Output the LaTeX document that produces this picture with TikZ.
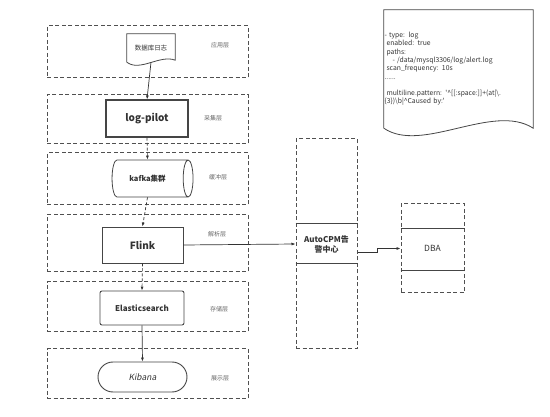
\documentclass[tikz,border=0pt]{standalone}
\usepackage{fontspec}
\setmainfont{Noto Sans CJK SC}
\newfontfamily\notefont{Noto Sans CJK SC}[Ligatures=TeXOff]
\newfontfamily\slantfont{Noto Sans CJK SC}[FakeSlant=0.2]
\usepackage{tikz}
\usetikzlibrary{arrows.meta, positioning, shapes.geometric}

\definecolor{dashgray}{HTML}{505050}
\definecolor{boxgray}{HTML}{454545}
\definecolor{textgray}{HTML}{333333}

\begin{document}
\begin{tikzpicture}[
    x=1pt, y=-1pt,
    text=textgray,
    layer/.style={
        rectangle,
        draw=dashgray,
        line width=1pt,
        dash pattern=on 4pt off 2.5pt,
        minimum width=201pt
    },
    layerlabel/.style={
        font=\fontsize{6}{7}\selectfont,
        text=black!60
    },
    block/.style={
        rectangle,
        draw=boxgray,
        line width=0.9pt,
        align=center,
        font=\bfseries\fontsize{8}{10}\selectfont
    },
    lane/.style={
        rectangle,
        draw=dashgray,
        line width=1pt,
        dash pattern=on 4pt off 2.5pt,
        align=center
    },
    arrow/.style={-{Latex[length=4pt,width=3pt]}, line width=0.7pt, draw=black!80},
    dasharrow/.style={arrow, dash pattern=on 3pt off 2pt}
]
\useasboundingbox (0,0) rectangle (550,417);

% layers
\node[layer, minimum height=52pt] (layApp) at (147.5,52) {};
\node[layer, minimum height=49pt] (layCollect) at (147.5,119.5) {};
\node[layer, minimum height=52pt] (layBuffer) at (147.5,179) {};
\node[layer, minimum height=57pt] (layParse) at (147.5,243.5) {};
\node[layer, minimum height=50pt] (layStore) at (147.5,307) {};
\node[layer, minimum height=50pt] (layShow) at (147.5,374) {};

\node[layerlabel] (lblApp) at (220,45) {应用层};
\node[layerlabel] (lblCollect) at (213,118) {采集层};
\node[layerlabel] (lblBuffer) at (218,177) {缓冲层};
\node[layerlabel] (lblParse) at (217,234) {解析层};
\node[layerlabel] (lblStore) at (219,309) {存储层};
\node[layerlabel] (lblShow) at (220,378) {展示层};

% document node
\node[minimum width=48pt, minimum height=28pt, inner sep=0pt,
      font=\fontsize{6.5}{8}\selectfont] (dbLog) at (151,48) {数据库日志};
\draw[draw=boxgray, line width=0.8pt]
    (dbLog.south west) -- (dbLog.north west) -- (dbLog.north east)
    -- ([yshift=2pt]dbLog.south east)
    .. controls +(-15,-6) and +(13,10) .. (dbLog.south west);

\node[block, minimum width=82pt, minimum height=37pt, line width=1.2pt,
      font=\bfseries\fontsize{10}{12}\selectfont] (logPilot) at (147,118.5) {log-pilot};
\node[cylinder, draw=boxgray, line width=0.8pt, shape aspect=0.28,
      minimum width=37pt, minimum height=81pt, inner ysep=14pt,
      font=\bfseries\fontsize{7.5}{9}\selectfont] (kafka) at (147.5,178.5) {kafka集群};
\node[block, minimum width=81pt, minimum height=36pt,
      font=\bfseries\fontsize{10}{12}\selectfont] (flink) at (142.5,245) {Flink};
\node[block, minimum width=84pt, minimum height=34pt, rounded corners=2pt] (es) at (142,308) {Elasticsearch};
\node[block, minimum width=89pt, minimum height=30pt, rounded corners=15pt,
      font=\slantfont\fontsize{8.5}{10}\selectfont] (kibana) at (142.5,377) {Kibana};

% swimlanes
\node[lane, minimum width=61pt, minimum height=210pt,
      font=\bfseries\fontsize{8}{10}\selectfont] (autoCPM) at (326.5,244) {AutoCPM告\\警中心};
\draw[draw=boxgray, line width=0.8pt] ([yshift=21pt]autoCPM.west) -- ([yshift=21pt]autoCPM.east);
\draw[draw=boxgray, line width=0.8pt] ([yshift=-19pt]autoCPM.west) -- ([yshift=-19pt]autoCPM.east);

\node[lane, minimum width=63pt, minimum height=89pt,
      font=\fontsize{8.5}{10}\selectfont] (dba) at (432.5,248.5) {DBA};
\draw[draw=boxgray, line width=0.8pt] ([yshift=20.5pt]dba.west) -- ([yshift=20.5pt]dba.east);
\draw[draw=boxgray, line width=0.8pt] ([yshift=-21.5pt]dba.west) -- ([yshift=-21.5pt]dba.east);

% config note
\node[minimum width=149pt, minimum height=118pt, inner sep=0.5pt,
      text width=148pt, align=left,
      font=\notefont\fontsize{6.8}{8.3}\selectfont] (note) at (458.5,69) {%
- type: log\\
\hspace*{2pt}enabled: true\\
\hspace*{2pt}paths:\\
\hspace*{8pt}- /data/mysql3306/log/alert.log\\
\hspace*{2pt}scan\_frequency: 10s\\
......\\[8.3pt]
\hspace*{2pt}multiline.pattern: '\textasciicircum[[:space:]]+(at|\textbackslash.\\
\{3\})\textbackslash b|\textasciicircum Caused by:'};
\draw[draw=boxgray, line width=0.8pt]
    (note.south west) -- (note.north west) -- (note.north east)
    -- (note.south east)
    .. controls +(-40,-26) and +(38,26) .. (note.south west);

% connectors
\draw[arrow] (dbLog.south) -- (logPilot.north);
\draw[dasharrow] (logPilot.south) -- (kafka.north);
\draw[dasharrow] (kafka.south) -- (flink.north);
\draw[dasharrow] (flink.south) -- (es.north);
\draw[arrow] (es.south) -- (kibana.north);
\draw[arrow] (flink.east) -- (autoCPM.west);
\draw[arrow] ([yshift=-8pt]autoCPM.east) -- ++(20,0) |- (dba.west);

\end{tikzpicture}
\end{document}
